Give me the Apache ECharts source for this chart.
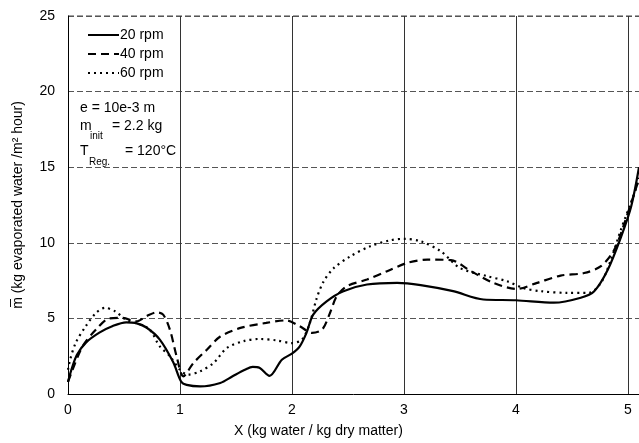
<!DOCTYPE html>
<html><head><meta charset="utf-8">
<script src="https://cdn.jsdelivr.net/npm/echarts@6/dist/echarts.min.js"></script>
<style>html,body{margin:0;padding:0;background:#fff}#c{width:639px;height:443px}</style>
</head><body><div id="c"></div>
<script>
var seriesNames = ['20 rpm', '40 rpm', '60 rpm'];
var x20 = [0, 0.03, 0.08, 0.16, 0.28, 0.4, 0.52, 0.6, 0.7, 0.82, 0.94, 1.01, 1.06, 1.18, 1.36, 1.47, 1.58, 1.65, 1.71, 1.8, 1.91, 2.0, 2.07, 2.13, 2.19, 2.31, 2.46, 2.67, 2.94, 3.15, 3.44, 3.71, 4.0, 4.34, 4.58, 4.7, 4.82, 4.94, 5.03, 5.1];
var y20 = [0.8, 1.6, 2.6, 3.4, 4.06, 4.5, 4.74, 4.7, 4.4, 3.6, 2.1, 0.83, 0.6, 0.5, 0.73, 1.17, 1.6, 1.8, 1.74, 1.2, 2.27, 2.67, 3.15, 4.04, 5.25, 6.13, 6.8, 7.24, 7.35, 7.2, 6.8, 6.25, 6.2, 6.04, 6.37, 6.8, 8.2, 10.4, 12.4, 15.0];
var x40 = [0, 0.03, 0.13, 0.25, 0.37, 0.49, 0.61, 0.7, 0.79, 0.85, 0.91, 0.97, 1.03, 1.12, 1.24, 1.36, 1.54, 1.77, 1.95, 2.07, 2.18, 2.27, 2.34, 2.4, 2.49, 2.67, 2.85, 3.03, 3.21, 3.42, 3.6, 3.8, 4.01, 4.19, 4.4, 4.61, 4.76, 4.88, 4.97, 5.09];
var y40 = [0.8, 1.4, 3.15, 4.26, 5.0, 5.03, 4.8, 5.14, 5.4, 5.25, 4.26, 2.5, 1.17, 2.05, 2.93, 3.8, 4.37, 4.7, 4.87, 4.48, 4.04, 4.26, 5.36, 6.46, 7.13, 7.57, 8.12, 8.67, 8.89, 8.85, 8.12, 7.35, 6.95, 7.35, 7.83, 8.0, 8.45, 9.55, 11.3, 14.0];
var x60 = [0, 0.02, 0.07, 0.16, 0.25, 0.33, 0.42, 0.52, 0.64, 0.73, 0.82, 0.91, 1.0, 1.07, 1.18, 1.3, 1.42, 1.57, 1.71, 1.86, 2.0, 2.09, 2.16, 2.22, 2.28, 2.37, 2.52, 2.7, 2.88, 3.0, 3.15, 3.33, 3.5, 3.74, 3.92, 4.07, 4.22, 4.46, 4.65, 4.76, 4.85, 4.94, 5.06, 5.1];
var y60 = [1.6, 2.3, 3.4, 4.5, 5.36, 5.7, 5.47, 4.92, 4.6, 4.26, 3.15, 2.5, 1.6, 1.28, 1.5, 2.05, 3.05, 3.5, 3.64, 3.55, 3.37, 3.6, 4.7, 6.3, 7.4, 8.3, 9.1, 9.77, 10.17, 10.26, 10.1, 9.44, 8.34, 7.8, 7.46, 7.0, 6.8, 6.69, 6.69, 7.35, 8.9, 10.9, 13.3, 14.3];
var yTicks = [0, 5, 10, 15, 20, 25];
var xTicks = [0, 1, 2, 3, 4, 5];

function zip(xs, ys) { return xs.map(function (x, i) { return [x, ys[i]]; }); }
var FONT = 'Arial, "Liberation Sans", sans-serif';

var chart = echarts.init(document.getElementById('c'));
var txt = function (x, y, s, size) {
  return { type: 'text', left: x, top: y, style: { text: s, font: (size || 14) + 'px ' + FONT, fill: '#000' }, z: 100 };
};
chart.setOption({
  animation: false,
  backgroundColor: '#fff',
  grid: { left: 68, right: 0, top: 16, bottom: 49 },
  xAxis: {
    type: 'value', min: 0, max: 5.1, interval: 1,
    axisLine: { show: true, lineStyle: { color: '#000', width: 1 } },
    axisTick: { show: false },
    axisLabel: { color: '#000', fontSize: 14, fontFamily: FONT, margin: 9, showMaxLabel: false,
      formatter: function (v) { return xTicks.indexOf(v) >= 0 ? String(v) : ''; } },
    splitLine: { show: true, lineStyle: { color: '#333', width: 1 } }
  },
  yAxis: {
    type: 'value', min: 0, max: 25, interval: 5,
    name: 'm\u0305 (kg evaporated water /m\u00b2 hour)',
    nameLocation: 'middle', nameGap: 43, nameRotate: 90,
    nameTextStyle: { color: '#000', fontSize: 14, fontFamily: FONT },
    axisLine: { show: true, lineStyle: { color: '#000', width: 1 } },
    axisTick: { show: false },
    axisLabel: { color: '#000', fontSize: 14, fontFamily: FONT, margin: 13,
      formatter: function (v) { return yTicks.indexOf(v) >= 0 ? String(v) : ''; } },
    splitLine: { show: true, lineStyle: { color: '#555', width: 1, type: [6, 3] } }
  },
  legend: {
    show: true, orient: 'vertical', left: 82, top: 23, itemGap: 5,
    itemWidth: 31, itemHeight: 14,
    itemStyle: { opacity: 0 },
    textStyle: { color: '#000', fontSize: 14, fontFamily: FONT, padding: [0, 0, 0, -4] },
    data: seriesNames
  },
  series: [
    { name: seriesNames[0], type: 'line', data: zip(x20, y20), smooth: 0.3, symbol: 'none',
      lineStyle: { color: '#000', width: 2.2, type: 'solid' }, itemStyle: { color: '#000' } },
    { name: seriesNames[1], type: 'line', data: zip(x40, y40), smooth: 0.3, symbol: 'none',
      lineStyle: { color: '#000', width: 2.2, type: [8, 5] }, itemStyle: { color: '#000' } },
    { name: seriesNames[2], type: 'line', data: zip(x60, y60), smooth: 0.3, symbol: 'none',
      lineStyle: { color: '#000', width: 2.2, type: [2, 4] }, itemStyle: { color: '#000' } }
  ],
  graphic: [
    { type: 'line', shape: { x1: 68, y1: 16, x2: 639, y2: 16 }, style: { stroke: '#444', lineWidth: 1, lineDash: [6, 3] } },
    txt(80, 101, 'e = 10e-3 m'),
    txt(80, 119, 'm'),
    txt(90, 131, 'init', 10),
    txt(112, 119, '= 2.2 kg'),
    txt(80, 144, 'T'),
    txt(89, 157, 'Reg.', 10),
    txt(125, 144, '= 120\u00b0C'),
    { type: 'text', left: 234, top: 424, style: { text: 'X (kg water / kg dry matter)', font: '14px ' + FONT, fill: '#000' } }
  ]
});
</script></body></html>
